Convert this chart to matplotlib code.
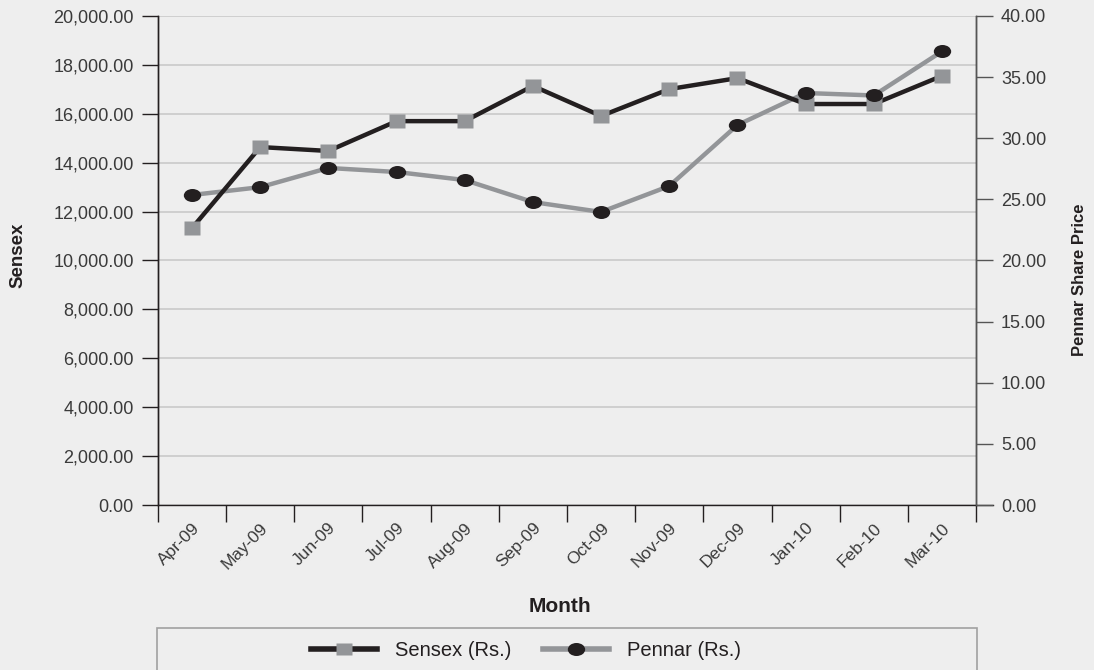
import matplotlib
matplotlib.use("Agg")
import matplotlib.pyplot as plt
from matplotlib.path import Path
from matplotlib.markers import MarkerStyle
from matplotlib.transforms import Affine2D
from matplotlib.lines import Line2D
from matplotlib.patches import Rectangle
from matplotlib.ticker import FuncFormatter, FixedLocator, NullFormatter

months = ["Apr-09", "May-09", "Jun-09", "Jul-09", "Aug-09", "Sep-09",
          "Oct-09", "Nov-09", "Dec-09", "Jan-10", "Feb-10", "Mar-10"]
sensex = [11330, 14640, 14480, 15700, 15700, 17140,
          15910, 17010, 17460, 16400, 16400, 17550]
pennar = [25.36, 26.0, 27.57, 27.24, 26.58, 24.78,
          23.97, 26.09, 31.08, 33.7, 33.5, 37.1]
left_ticks = list(range(0, 20001, 2000))
right_ticks = list(range(0, 41, 5))

BG = "#eeeeee"
DARK = "#231f20"
GRAY = "#939598"
TXT = "#3a3a3a"
W, H = 1094, 670

plt.rcParams['font.family'] = ['Liberation Sans', 'DejaVu Sans']

fig = plt.figure(figsize=(W / 100, H / 100), dpi=100, facecolor=BG)
L, R, T, B = 158, 976, 16, 505
ax1 = fig.add_axes([L / W, 1 - B / H, (R - L) / W, (B - T) / H])
ax1.set_facecolor(BG)
ax2 = ax1.twinx()

x = list(range(len(months)))
ax1.set_xlim(-0.5, len(months) - 0.5)
ax1.set_ylim(0, 20000)
ax2.set_ylim(0, 40)

# markers (slightly squashed as in the reference)
circ = MarkerStyle(Path.unit_circle().transformed(Affine2D().scale(1, 0.75)))
sq = MarkerStyle(Path.unit_rectangle().transformed(Affine2D().translate(-0.5, -0.5).scale(1, 0.83)))

# lines
ax2.plot(x, pennar, color=GRAY, lw=3.2, zorder=2, solid_capstyle='butt')
ax2.plot(x, sensex, color=DARK, lw=3.2, zorder=3, transform=ax1.transData,
         solid_capstyle='butt')
ax2.plot(x, sensex, ls='none', marker=sq, ms=11.5, mfc=GRAY, mec='none',
         zorder=4, transform=ax1.transData)
ax2.plot(x, pennar, ls='none', marker=circ, ms=12.5, mfc=DARK, mec='none', zorder=5)

# grid
ax1.set_yticks(left_ticks)
ax1.yaxis.grid(True, color="#c6c6c6", lw=1.1)
ax1.set_axisbelow(True)
ax2.set_yticks(right_ticks)

ax1.yaxis.set_major_formatter(FuncFormatter(lambda v, p: f"{v:,.2f}"))
ax2.yaxis.set_major_formatter(FuncFormatter(lambda v, p: f"{v:,.2f}"))

# x ticks: labels at centers, marks at boundaries
ax1.set_xticks(x)
ax1.set_xticklabels(months, rotation=45, ha='right', rotation_mode='anchor',
                    fontsize=12.5, color=TXT)
ax1.xaxis.set_minor_locator(FixedLocator([i - 0.5 for i in range(len(months) + 1)]))
ax1.xaxis.set_minor_formatter(NullFormatter())
ax1.tick_params(axis='x', which='major', length=0, pad=11)
ax1.tick_params(axis='x', which='minor', length=12.5, width=1, color=DARK)

ax1.tick_params(axis='y', length=11.5, width=1, color=DARK, labelsize=13,
                labelcolor=TXT, pad=6)
ax2.tick_params(axis='y', length=12, width=1, color="#555555", labelsize=13,
                labelcolor=TXT, pad=6)

for a in (ax1, ax2):
    a.spines['top'].set_visible(False)
    for s in ('left', 'right', 'bottom'):
        a.spines[s].set_color(DARK)
        a.spines[s].set_linewidth(1)
ax2.spines['right'].set_color("#555555")
ax1.spines['bottom'].set_bounds(-0.5, len(months) - 0.25)
ax2.spines['bottom'].set_visible(False)

# axis titles
fig.text(17.5 / W, 1 - 255 / H, "Sensex", rotation=90, ha='center', va='center',
         fontsize=13.5, weight='bold', color=DARK)
fig.text(1080 / W, 1 - 280 / H, "Pennar Share Price", rotation=90, ha='center',
         va='center', fontsize=12, weight='bold', color=DARK)
fig.text(560 / W, 1 - 606 / H, "Month", ha='center', va='center',
         fontsize=15, weight='bold', color=DARK)

# legend box
fig.patches.append(Rectangle((157 / W, 1 - 675 / H), (977 - 157) / W, (675 - 628) / H,
                             transform=fig.transFigure, facecolor=BG,
                             edgecolor="#a0a0a0", lw=1.2, zorder=0))
handles = [
    Line2D([], [], color=DARK, lw=4, marker=sq, ms=11, mfc=GRAY, mec='none'),
    Line2D([], [], color=GRAY, lw=4, marker=circ, ms=12.5, mfc=DARK, mec='none'),
]
leg = fig.legend(handles, ["Sensex (Rs.)", "Pennar (Rs.)"], loc='center',
                 bbox_to_anchor=(526 / W, 1 - 651 / H), ncol=2, frameon=False,
                 handlelength=3.25, columnspacing=1.6, handletextpad=0.9,
                 prop={'size': 14.5})
for t in leg.get_texts():
    t.set_color(DARK)

fig.savefig("out.png", dpi=100, facecolor=BG)
